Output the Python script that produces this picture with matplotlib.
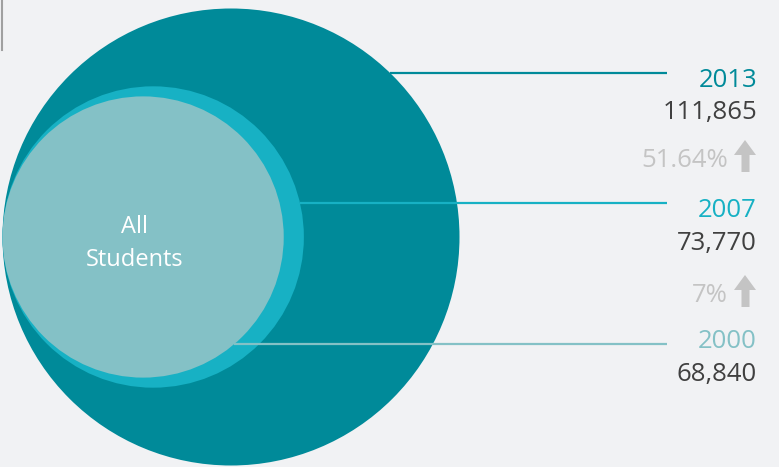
import matplotlib
matplotlib.use("Agg")
import matplotlib.pyplot as plt
from matplotlib.patches import Circle, Polygon
import numpy as np

plt.rcParams['font.family'] = ['Open Sans', 'DejaVu Sans']

# Données
years = ["2013", "2007", "2000"]
students = [111865, 73770, 68840]
changes = ["51.64%", "7%"]
center_label = ["All", "Students"]

# Couleurs
circle_colors = ["#008a99", "#17b1c4", "#84c1c6"]
bg = "#f1f2f4"

W, H = 779, 467
fig = plt.figure(figsize=(W / 100, H / 100), dpi=100, facecolor=bg)
ax = fig.add_axes([0, 0, 1, 1])
ax.set_xlim(0, W)
ax.set_ylim(H, 0)
ax.set_aspect("equal")
ax.axis("off")
ax.set_facecolor(bg)

# petit trait gris en haut à gauche
ax.plot([2.5, 2.5], [0, 50], color="#a0a0a0", lw=1.5)

# Cercles alignés à gauche, rayon proportionnel à la valeur
left, cy, rmax = 2.5, 237, 228.5
radii = [rmax * v / max(students) for v in students]
for r, c in zip(radii, circle_colors):
    ax.add_patch(Circle((left + r, cy), r, color=c, lw=0))

for txt, by in zip(center_label, [233, 266]):
    ax.text(135, by, txt, color="white", fontsize=17, ha="center", va="baseline")

# Lignes de rappel + étiquettes
line_y = [72.5, 203, 344]
year_base = [87, 217, 348]
val_base = [119, 250, 381]
line_colors = ["#008a99", "#17b1c4", "#84c1c6"]
end_x = 667
text_x = 757
fs = 18.5
for yr, val, r, ly, yb, vb, lc in zip(years, students, radii, line_y,
                                      year_base, val_base, line_colors):
    cx = left + r
    start = cx + np.sqrt(max(r ** 2 - (ly - cy) ** 2, 0))
    ax.plot([start, end_x], [ly, ly], color=lc, lw=1.6, solid_capstyle="butt")
    ax.text(text_x, yb, yr, color=lc, fontsize=fs, ha="right", va="baseline")
    ax.text(text_x, vb, f"{val:,}", color="#404040", fontsize=fs,
            ha="right", va="baseline")

# Variations en pourcentage avec flèche
pct_y = [156, 291]
for txt, py in zip(changes, pct_y):
    ax.text(728, py + 11, txt, color="#c4c4c4", fontsize=fs, ha="right", va="baseline")
    ax.add_patch(Polygon([(734, py - 1), (745, py - 16), (756, py - 1),
                          (749.5, py - 1), (749.5, py + 16), (741.5, py + 16),
                          (741.5, py - 1)], closed=True, color="#c4c4c4", lw=0))

fig.savefig("out.png", dpi=100, facecolor=bg)
